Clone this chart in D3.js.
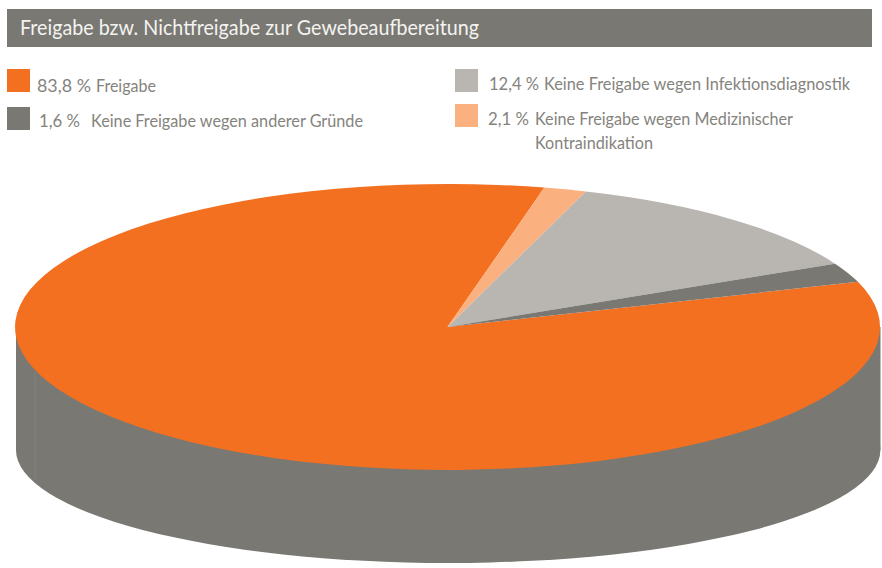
<!DOCTYPE html>
<html>
<head>
<meta charset="utf-8">
<title>Freigabe bzw. Nichtfreigabe zur Gewebeaufbereitung</title>
<script src="https://cdn.jsdelivr.net/npm/d3@7"></script>
<style>
    html, body { margin: 0; padding: 0; background: #fff; }
    svg { display: block; }
    text { font-family: "Lato", sans-serif; }
</style>
</head>
<body>
<script>
    var width = 882
    var height = 568

    var chartTitle = "Freigabe bzw. Nichtfreigabe zur Gewebeaufbereitung"

    // clockwise, starting at the right edge of the big orange slice
    var sliceNames = ["Freigabe", "Medizinische Kontraindikation", "Infektionsdiagnostik", "Andere Gründe"]
    // shares as measured on the disc, they differ a bit from the printed percentages
    var sliceValues = [83.7, 1.6, 12.5, 2.2]
    var sliceColors = ["#f47021", "#fbb07f", "#b9b5b0", "#797873"]

    var legendColors = ["#f47021", "#797873", "#b9b5b0", "#fbb07f"]
    var legendPercents = ["83,8 %", "1,6 %", "12,4 %", "2,1 %"]
    var legendLabels = ["Freigabe", "Keine Freigabe wegen anderer Gründe",
        "Keine Freigabe wegen Infektionsdiagnostik", "Keine Freigabe wegen Medizinischer"]
    var legendExtra = "Kontraindikation"

    var svg = d3.select("body").append("svg")
        .attr("width", width)
        .attr("height", height)

    // squeeze a text to the width it has in the original
    function label(x, y, str, w, size, color) {
        return svg.append("text")
            .attr("x", x).attr("y", y)
            .attr("font-size", size + "px")
            .attr("fill", color)
            .attr("textLength", w)
            .attr("lengthAdjust", "spacingAndGlyphs")
            .text(str)
    }

    // title bar
    svg.append("rect")
        .attr("x", 7).attr("y", 9)
        .attr("width", 865).attr("height", 38)
        .attr("fill", "#797873")
    label(20, 35, chartTitle, 459, 20.5, "#f4f3f0")

    // legend
    var textColor = "#85837d"
    var legendPos = [
        { box: [7, 69], pct: [37, 54], txt: [96, 60], y: 92 },
        { box: [7, 107], pct: [39, 41], txt: [91, 272], y: 127 },
        { box: [455, 69], pct: [489, 50], txt: [544, 306], y: 90 },
        { box: [455, 104], pct: [488, 41], txt: [535, 258], y: 125 }
    ]
    legendPos.forEach(function (p, i) {
        svg.append("rect")
            .attr("x", p.box[0]).attr("y", p.box[1])
            .attr("width", 23).attr("height", 23)
            .attr("fill", legendColors[i])
        label(p.pct[0], p.y, legendPercents[i], p.pct[1], 17, textColor)
        label(p.txt[0], p.y, legendLabels[i], p.txt[1], 17, textColor)
    })
    label(535, 149, legendExtra, 118, 17, textColor)

    // pie, drawn as a unit circle and squashed into an ellipse
    var cx = 447.5, cy = 327, rx = 432.5, ry = 143
    var deg = Math.PI / 180

    var unitArc = d3.arc().innerRadius(0).outerRadius(1)
    var pie = d3.pie().sort(null)
        .startAngle(71.6 * deg)
        .endAngle(431.6 * deg)

    // side wall, its lower edge is flatter than the top face
    var wallBottom = 450, wallRy = 113
    var wall = svg.append("g").attr("fill", "#797873")
    wall.append("rect")
        .attr("x", 16).attr("y", cy)
        .attr("width", 864.5).attr("height", wallBottom - cy)
    wall.append("path")
        .attr("transform", "translate(448.2," + wallBottom + ") scale(432.2," + wallRy + ")")
        .attr("d", unitArc({ startAngle: 0, endAngle: 2 * Math.PI }))
    wall.append("line")
        .attr("x1", 35).attr("x2", 35)
        .attr("y1", 372).attr("y2", 480)
        .attr("stroke", "#8a8881").attr("stroke-width", 0.5)

    // top face
    svg.append("g")
        .attr("transform", "translate(" + cx + "," + cy + ") scale(" + rx + "," + ry + ")")
        .selectAll("path")
        .data(pie(sliceValues))
        .join("path")
        .attr("d", unitArc)
        .attr("fill", function (d, i) { return sliceColors[i] })
</script>
</body>
</html>
